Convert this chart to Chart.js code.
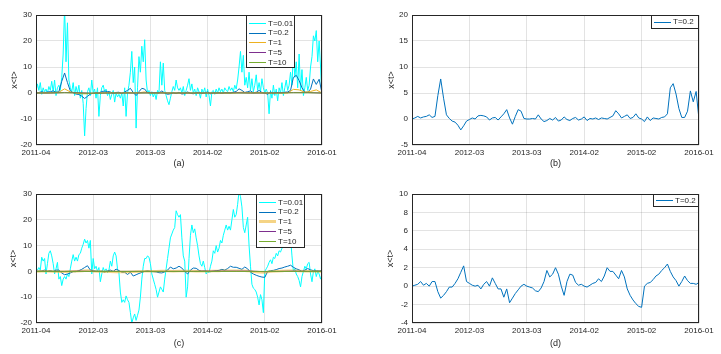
<!DOCTYPE html>
<html>
<head>
<meta charset="utf-8">
<script src="https://cdn.jsdelivr.net/npm/chart.js@4.4.0/dist/chart.umd.min.js"></script>
<style>
  body { margin: 0; background: #fff; }
  .panel { position: absolute; }
</style>
</head>
<body>
<div class="panel" style="left:0;top:0"><canvas id="chartA" width="360" height="180"></canvas></div>
<div class="panel" style="left:360px;top:0"><canvas id="chartB" width="361" height="180"></canvas></div>
<div class="panel" style="left:0;top:180px"><canvas id="chartC" width="360" height="174"></canvas></div>
<div class="panel" style="left:360px;top:180px"><canvas id="chartD" width="361" height="174"></canvas></div>
<script>
// tick labels on the time axis (equally spaced)
const tickLabels = ['2011-04', '2012-03', '2013-03', '2014-02', '2015-02', '2016-01'];
const seriesNames = ['T=0.01', 'T=0.2', 'T=1', 'T=5', 'T=10'];

// panel (a) / (b) series, sampled evenly over the whole period
const a_T001 = [
  0.5, 3.5, 1.0, 4.0, -0.5, 2.0, 0.5, 1.5, 0.0, 2.5,
  1.0, 4.5, 0.5, 5.0, -1.0, 2.0, 3.0, 1.0, 6.0, 15.0,
  33.0, 12.0, 27.0, 5.0, 2.0, 0.5, 4.0, -1.0, 2.5, 0.0,
  3.0, -2.0, 1.0, -4.0, -16.5, -6.0, 0.5, 2.0, -1.0, 5.0,
  0.0, 1.5, -2.0, 2.0, -9.0, -1.0, 2.0, 3.0, 0.5, 1.5,
  -1.0, 0.5, -2.5, -0.5, 1.0, -3.5, 0.0, -1.5, -0.5, -2.0,
  0.0, -5.0, 2.0, -9.0, 0.0, 3.0, 8.0, 16.0, 4.0, 10.0,
  -13.5, 2.0, 14.0, 8.0, 18.0, 12.0, 20.5, 5.0, 0.0, 1.0,
  -1.0, 0.5, -1.5, 0.0, -2.5, 1.0, 0.0, 12.0, 3.0, 11.5,
  1.0, -1.0, -3.0, -4.5, -2.0, 0.5, 2.5, 1.0, 5.0, 2.0,
  1.0, 2.0, 0.0, 2.5, -1.0, 1.0, 3.0, 5.5, 1.0, 3.5,
  0.0, 1.5, -1.0, 2.0, 0.5, -2.0, 1.5, 0.0, 2.0, -1.5,
  1.5, -1.0, -5.0, 0.5, 1.0, -0.5, 1.5, 0.0, 2.0, 0.5,
  1.5, 0.0, 2.0, 1.0, 0.5, 2.5, 1.0, 2.0, 0.5, 3.0,
  1.5, 5.0, 10.0, 16.0, 8.0, 14.5, 3.0, 6.0, 2.0, 8.0,
  1.0, 5.5, 0.5, 3.0, 7.0, 1.0, 4.0, 0.5, 5.5, 2.0,
  0.0, 1.5, 0.0, -8.0, 1.0, -2.0, 3.0, -1.0, 1.5, -3.0,
  2.0, 0.0, 4.0, -1.0, 2.0, 5.0, 1.0, 3.0, 8.0, 3.0,
  15.5, 6.0, 12.0, 2.0, 15.0, 1.0, 9.0, -1.0, 2.0, 6.0,
  1.0, 3.0, 10.0, 14.0, 22.0, 20.0, 24.0, 12.0, 20.0, 10.0,
  -4.0
];
const a_T02 = [
  0.0, 0.2, 0.5, 0.2, 0.4, 0.5, 0.8, 0.3, 0.5, 4.5,
  7.7, 4.0, 0.8, 0.1, -0.4, -0.6, -1.2, -2.1, -1.3, -0.4,
  -0.1, 0.2, 0.0, 0.6, 0.7, 0.6, 0.4, -0.2, 0.2, 0.3,
  -0.2, 0.4, 1.0, 1.8, 0.2, -1.0, 0.5, 1.8, 1.5, 0.1,
  0.0, 0.0, 0.1, 0.0, 0.8, 0.0, -0.5, -0.3, 0.1, -0.2,
  0.3, -0.4, -0.2, 0.4, -0.1, -0.3, 0.1, 0.3, -0.2, 0.0,
  0.4, -0.3, 0.1, 0.0, 0.2, -0.1, 0.2, 0.1, 0.0, 0.3,
  0.6, 1.6, 1.0, 0.2, 0.5, 0.8, 0.1, 0.3, 1.0, 0.2,
  0.0, -0.5, 0.4, -0.3, 0.2, 0.1, 0.0, 0.3, 0.4, 1.0,
  6.0, 6.8, 4.8, 2.0, 0.3, 0.3, 1.5, 5.4, 3.3, 5.3,
  -0.1
];
const a_T1 = [
  0.0, 0.1, 0.1, 0.2, 0.3, 1.6, 0.4, 0.0, -0.3, -0.3,
  0.0, 0.0, 0.1, 0.1, 0.0, 0.0, 0.2, 0.1, 0.1, 0.4,
  0.0, 0.0, 0.2, 0.0, 0.0, 0.0, 0.0, 0.0, 0.0, 0.0,
  0.0, 0.0, 0.0, 0.0, 0.0, 0.1, 0.3, 0.1, 0.1, 0.2,
  0.0, 0.0, 0.0, 0.0, 0.0, 1.4, 1.2, 0.3, 0.6, 1.2,
  0.0
];
const a_T5 = [0.0, 0.0, 0.2, 0.1, -0.1, 0.0, 0.0, 0.0, 0.1, 0.0, 0.0, 0.0, 0.0, 0.0, 0.1, 0.0, 0.0, 0.1, 0.2, 0.2, 0.0];
const a_T10 = [0.0, 0.0, 0.1, 0.0, -0.1, 0.0, 0.0, 0.0, 0.0, 0.0, 0.0, 0.0, 0.0, 0.0, 0.0, 0.0, 0.0, 0.0, 0.1, 0.1, 0.0];

// panel (c) / (d) series
const c_T001 = [
  0.0, 0.5, 1.5, 0.5, 5.5, 4.0, 5.0, -1.0, 3.0, 7.0,
  8.0, 6.0, 3.0, -1.0, 1.0, 3.5, -3.0, -2.0, -5.5, -3.0,
  -2.0, -3.0, -1.0, -2.0, 1.0, 4.0, 6.5, 4.0, 5.5, 4.0,
  6.5, 7.0, 9.0, 10.5, 12.5, 11.0, 12.0, 9.0, 12.0, -1.0,
  5.0, 1.0, 2.0, 0.0, 1.5, -4.0, -1.0, 1.5, 0.0, 1.0,
  -0.5, 0.5, 4.0, 2.0, 6.0, 7.5, 6.0, 1.0, -0.5, -8.0,
  -12.0, -11.0, -12.0, -9.5, -11.0, -12.0, -16.0, -20.0, -18.0, -16.5,
  -19.0, -17.0, -15.0, -10.0, -3.0, 2.0, 5.0, 5.0, 6.0, 5.5,
  3.0, -1.0, -3.0, -5.0, -7.0, -10.0, -8.0, -6.0, -7.0, -8.0,
  -3.0, 1.0, 5.0, 9.0, 13.0, 14.5, 16.0, 17.0, 23.5, 22.0,
  21.0, 22.0, 13.0, 6.0, 4.0, -10.0, -6.0, 5.0, 14.0, 18.0,
  15.0, 16.5, 13.0, 10.0, 6.0, 3.0, 2.0, 4.0, 1.5, -1.0,
  0.0, -0.5, 2.0, 4.0, 8.0, 7.0, 10.0, 7.5, 9.0, 12.0,
  11.0, 14.0, 16.0, 18.0, 16.0, 17.5, 16.0, 20.0, 24.0, 21.0,
  22.0, 26.0, 31.0, 29.0, 25.0, 17.0, 15.0, 18.0, 21.0, 10.0,
  2.0, -5.0, -6.5, -7.0, -8.0, -10.0, -13.0, -9.0, -11.0, -16.0,
  0.0, 1.0, 2.0, 3.5, 4.5, 3.0, 5.5, 5.0, 7.0, 6.0,
  8.0, 7.5, 9.0, 9.5, 10.0, 10.5, 11.0, 12.0, 13.0, 6.0,
  0.0, 1.0, -1.0, -2.0, -3.5, -6.0, -2.0, 0.0, 2.0, 1.0,
  3.0, 3.5, -1.0, -4.0, 0.0, 1.0, -2.0, 0.0, -1.0, -3.0,
  -1.0
];
const c_T02 = [
  0.0, 0.1, 0.2, 0.5, 0.1, 0.3, 0.0, 0.5, 0.5, -0.6,
  -1.3, -1.0, -0.6, -0.1, -0.1, 0.3, 0.8, 1.5, 2.2, 0.5,
  0.3, 0.1, 0.0, 0.1, -0.3, 0.2, 0.5, 0.0, 0.9, 0.3,
  -0.3, -0.3, -1.2, -0.3, -1.8, -1.3, -0.8, -0.4, 0.0, 0.2,
  0.0, -0.1, -0.2, -0.5, -0.6, -0.2, 0.5, 1.7, 1.0, 1.3,
  2.0, 1.3, 0.0, -1.0, 0.5, 1.3, 1.2, 0.4, 0.1, 0.2,
  0.0, -0.1, 0.1, 0.3, 0.4, 0.8, 0.5, 1.1, 2.0, 1.6,
  1.6, 1.2, 0.8, 1.7, 1.0, -0.3, -1.0, -1.5, -1.9, -2.2,
  -2.3, 0.0, 0.3, 0.4, 0.7, 1.1, 1.3, 1.7, 2.0, 2.4,
  1.6, 1.0, 0.6, 0.0, 0.5, 1.1, 0.6, 0.3, 0.3, 0.2,
  0.4
];
const c_T1 = [
  0.0, 0.1, 0.1, 0.0, -0.1, -0.1, 0.0, 0.1, 0.2, 0.3,
  0.1, 0.0, -0.1, -0.1, -0.2, -0.2, -0.2, -0.1, 0.0, 0.1,
  0.1, 0.1, 0.2, 0.2, 0.1, 0.2, 0.2, 0.2, 0.1, 0.1,
  0.1, 0.2, 0.2, 0.3, 0.3, 0.3, 0.3, 0.2, -0.1, -0.3,
  -0.4, 0.0, 0.1, 0.2, 0.3, 0.3, 0.2, 0.1, 0.1, 0.0,
  0.0
];
const c_T5 = [0.0, 0.0, 0.0, 0.1, 0.0, 0.0, 0.0, 0.0, 0.0, 0.0, 0.0, 0.0, 0.1, 0.1, 0.1, 0.1, -0.1, 0.0, 0.1, 0.0, 0.0];
const c_T10 = [0.0, 0.0, 0.0, 0.0, 0.0, 0.0, 0.0, 0.0, 0.0, 0.0, 0.0, 0.0, 0.0, 0.0, 0.0, 0.0, 0.0, 0.0, 0.0, 0.0, 0.0];

const colors = ['#00ffff', '#0072bd', '#edb120', '#7e2f8e', '#77ac30'];
const ink = '#262626';
const FONT = 'Liberation Sans, Arial, sans-serif';

// values are sampled evenly over the axis 0..100
function toXY(values) {
  const n = values.length - 1;
  return values.map((v, i) => ({ x: i * 100 / n, y: v }));
}

// MATLAB-like box around the axes + legend box inside the axes
const framePlugin = {
  id: 'matlabFrame',
  afterDatasetsDraw(chart, args, opts) {
    const { ctx, chartArea: a } = chart;
    ctx.save();
    ctx.strokeStyle = ink;
    ctx.lineWidth = 1;
    ctx.strokeRect(a.left + 0.5, a.top + 0.5, a.right - a.left - 1, a.bottom - a.top - 1);

    const lg = opts.legend;
    if (lg) {
      const bx = Math.round(a.right - lg.right - lg.width);
      const by = Math.round(a.top);
      ctx.fillStyle = '#fff';
      ctx.fillRect(bx, by, lg.width, lg.height);
      ctx.strokeStyle = ink;
      ctx.lineWidth = 1;
      ctx.strokeRect(bx + 0.5, by + 0.5, lg.width - 1, lg.height - 1);
      ctx.font = '8px ' + FONT;
      ctx.textBaseline = 'middle';
      chart.data.datasets.forEach((ds, i) => {
        const y = by + lg.first + i * lg.row;
        const lw = Math.max(1, Math.round(ds.borderWidth));
        ctx.fillStyle = ds.borderColor;
        ctx.fillRect(bx + 3, Math.round(y - lw / 2), 17, lw);
        ctx.fillStyle = ink;
        ctx.fillText(ds.label, bx + 22, y);
      });
    }
    ctx.restore();
  }
};

function makeChart(id, p) {
  const datasets = p.series.map((s, i) => ({
    label: s.name,
    data: toXY(s.values),
    borderColor: s.color,
    borderWidth: s.width || 1,
    pointRadius: 0,
    tension: 0,
    order: p.series.length - i
  }));
  return new Chart(document.getElementById(id), {
    type: 'line',
    data: { datasets },
    options: {
      responsive: false,
      animation: false,
      events: [],
      layout: { autoPadding: false, padding: p.padding },
      plugins: {
        legend: { display: false },
        tooltip: { enabled: false },
        matlabFrame: { legend: p.legend }
      },
      scales: {
        x: {
          type: 'linear',
          min: 0, max: 100,
          afterFit: s => { s.height = p.xHeight; },
          afterBuildTicks: s => { s.ticks = tickLabels.map((t, i) => ({ value: i * 20 })); },
          ticks: {
            padding: 3,
            maxRotation: 0,
            autoSkip: false,
            color: ink,
            font: { size: 8, family: FONT },
            callback: (v, i) => tickLabels[i]
          },
          grid: { color: 'rgba(38,38,38,0.13)', drawTicks: false },
          border: { display: false },
          title: { display: true, text: p.title, color: ink, font: { size: 9, family: FONT }, padding: 4 }
        },
        y: {
          min: p.yMin, max: p.yMax,
          afterFit: s => { s.width = p.yWidth; },
          ticks: {
            stepSize: p.yStep,
            padding: 4,
            color: ink,
            font: { size: 8, family: FONT }
          },
          grid: { color: 'rgba(38,38,38,0.13)', drawTicks: false },
          border: { display: false },
          title: { display: true, text: 'x<t>', color: ink, font: { size: 9, family: FONT }, padding: 4 }
        }
      }
    },
    plugins: [framePlugin]
  });
}

makeChart('chartA', {
  title: '(a)', yMin: -20, yMax: 30, yStep: 10,
  padding: { left: 5, right: 38, top: 15, bottom: 7 }, yWidth: 31, xHeight: 28,
  legend: { width: 49, height: 53, right: 27, first: 8.3, row: 9.8 },
  series: [
    { name: seriesNames[0], values: a_T001, color: colors[0] },
    { name: seriesNames[1], values: a_T02, color: colors[1] },
    { name: seriesNames[2], values: a_T1, color: colors[2] },
    { name: seriesNames[3], values: a_T5, color: colors[3] },
    { name: seriesNames[4], values: a_T10, color: colors[4] }
  ]
});

makeChart('chartB', {
  title: '(b)', yMin: -5, yMax: 20, yStep: 5,
  padding: { left: 22, right: 22, top: 15, bottom: 7 }, yWidth: 30, xHeight: 28,
  legend: { width: 48, height: 14, right: 0, first: 7, row: 10 },
  series: [{ name: seriesNames[1], values: a_T02, color: colors[1] }]
});

makeChart('chartC', {
  title: '(c)', yMin: -20, yMax: 30, yStep: 10,
  padding: { left: 4, right: 38, top: 14, bottom: 1 }, yWidth: 32, xHeight: 30,
  legend: { width: 49, height: 54, right: 17, first: 8.3, row: 9.8 },
  series: [
    { name: seriesNames[0], values: c_T001, color: colors[0] },
    { name: seriesNames[1], values: c_T02, color: colors[1] },
    { name: seriesNames[2], values: c_T1, color: 'rgba(237,177,32,0.55)', width: 2.5 },
    { name: seriesNames[3], values: c_T5, color: colors[3] },
    { name: seriesNames[4], values: c_T10, color: colors[4] }
  ]
});

makeChart('chartD', {
  title: '(d)', yMin: -4, yMax: 10, yStep: 2,
  padding: { left: 21, right: 22, top: 14, bottom: 1 }, yWidth: 31, xHeight: 30,
  legend: { width: 46, height: 13, right: 0, first: 6.5, row: 10 },
  series: [{ name: seriesNames[1], values: c_T02, color: colors[1] }]
});
</script>
</body>
</html>
